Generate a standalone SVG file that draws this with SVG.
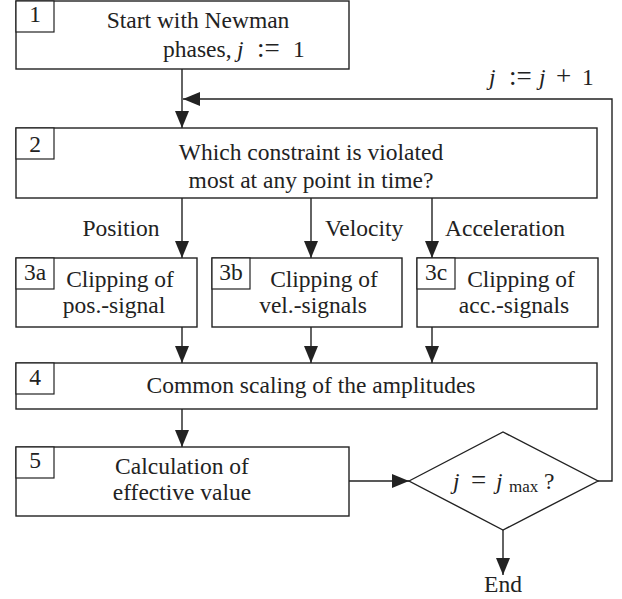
<svg xmlns="http://www.w3.org/2000/svg" width="622" height="599" viewBox="0 0 622 599">
<style>
.box{fill:#fff;stroke:#222;stroke-width:1.4}
.lab{fill:#fff;stroke:#222;stroke-width:1.2}
.t{font-family:"Liberation Serif","Times New Roman",serif;font-size:23.5px;fill:#222}
.c{text-anchor:middle}
.i{font-style:italic}
.op{font-size:27px}
.con{fill:none;stroke:#222;stroke-width:1.4}
</style>
<defs>
<marker id="ah" markerUnits="userSpaceOnUse" markerWidth="18" markerHeight="14" refX="17" refY="7" orient="auto">
<path d="M0,0 L17,7 L0,14 z" fill="#222"/>
</marker>
</defs>
<rect width="622" height="599" fill="#fff"/>
<g id="connectors">
<path class="con" d="M182,69 V128" marker-end="url(#ah)"/>
<path class="con" d="M598,481 H612 V99 H183" marker-end="url(#ah)"/>
<path class="con" d="M182,198 V258" marker-end="url(#ah)"/>
<path class="con" d="M311,198 V258" marker-end="url(#ah)"/>
<path class="con" d="M432,198 V258" marker-end="url(#ah)"/>
<path class="con" d="M182,327 V363" marker-end="url(#ah)"/>
<path class="con" d="M311,327 V363" marker-end="url(#ah)"/>
<path class="con" d="M432,327 V363" marker-end="url(#ah)"/>
<path class="con" d="M182,409 V447" marker-end="url(#ah)"/>
<path class="con" d="M349,481 H409" marker-end="url(#ah)"/>
<path class="con" d="M503,530 V575" marker-end="url(#ah)"/>
<text class="t" y="85"><tspan class="i" x="489">j</tspan><tspan class="op" x="509">:=</tspan><tspan class="i" x="539">j</tspan><tspan class="op" x="556">+</tspan><tspan x="582">1</tspan></text>
<text class="t c" x="121" y="236">Position</text>
<text class="t" x="325" y="236">Velocity</text>
<text class="t" x="445" y="236">Acceleration</text>
<text class="t c" x="503" y="592">End</text>
</g>
<g id="n1">
<rect class="box" x="16" y="1" width="333" height="68"/>
<rect class="lab" x="16" y="1" width="38" height="31"/>
<text class="t c" x="35" y="22">1</text>
<text class="t c" x="198" y="28">Start with Newman</text>
<text class="t" y="57"><tspan x="163">phases,</tspan><tspan class="i" x="237">j</tspan><tspan class="op" x="257">:=</tspan><tspan x="293">1</tspan></text>
</g>
<g id="n2">
<rect class="box" x="16" y="128" width="581" height="70"/>
<rect class="lab" x="16" y="128" width="38" height="31"/>
<text class="t c" x="35" y="152">2</text>
<text class="t c" x="311" y="160">Which constraint is violated</text>
<text class="t c" x="311" y="188">most at any point in time?</text>
</g>
<g id="n3a">
<rect class="box" x="16" y="258" width="181" height="69"/>
<rect class="lab" x="16" y="258" width="38" height="31"/>
<text class="t c" x="35" y="280">3a</text>
<text class="t c" x="120" y="287">Clipping of</text>
<text class="t c" x="114" y="313">pos.-signal</text>
</g>
<g id="n3b">
<rect class="box" x="212" y="258" width="190" height="69"/>
<rect class="lab" x="212" y="258" width="38" height="31"/>
<text class="t c" x="231" y="280">3b</text>
<text class="t c" x="324" y="287">Clipping of</text>
<text class="t c" x="313" y="313">vel.-signals</text>
</g>
<g id="n3c">
<rect class="box" x="417" y="258" width="181" height="69"/>
<rect class="lab" x="417" y="258" width="38" height="31"/>
<text class="t c" x="436" y="280">3c</text>
<text class="t c" x="521" y="287">Clipping of</text>
<text class="t c" x="514" y="313">acc.-signals</text>
</g>
<g id="n4">
<rect class="box" x="16" y="363" width="581" height="46"/>
<rect class="lab" x="16" y="363" width="38" height="31"/>
<text class="t c" x="35" y="385">4</text>
<text class="t c" x="311" y="393">Common scaling of the amplitudes</text>
</g>
<g id="n5">
<rect class="box" x="16" y="447" width="333" height="69"/>
<rect class="lab" x="16" y="447" width="38" height="31"/>
<text class="t c" x="35" y="468">5</text>
<text class="t c" x="182" y="474">Calculation of</text>
<text class="t c" x="182" y="500">effective value</text>
</g>
<g id="n6">
<polygon class="box" points="409,481 503,432 598,481 503,530"/>
<text class="t" y="489"><tspan class="i" x="453">j</tspan><tspan class="op" x="471">=</tspan><tspan class="i" x="496">j</tspan><tspan x="509" font-size="17" dy="3">max</tspan><tspan x="544" dy="-3">?</tspan></text>
</g>
</svg>
